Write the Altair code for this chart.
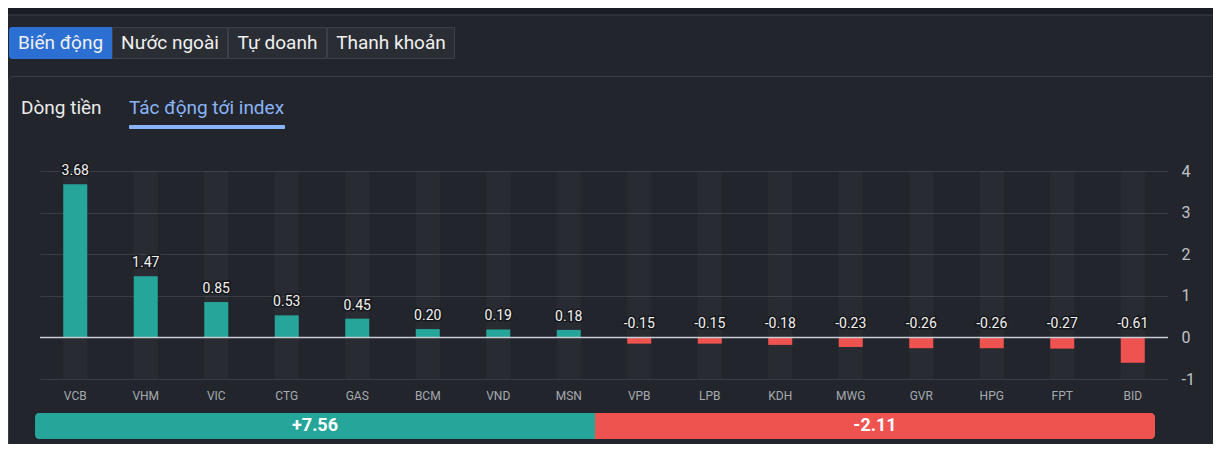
import altair as alt
import pandas as pd

# ---- data ----
tickers = ["VCB", "VHM", "VIC", "CTG", "GAS", "BCM", "VND", "MSN",
           "VPB", "LPB", "KDH", "MWG", "GVR", "HPG", "FPT", "BID"]
values = [3.68, 1.47, 0.85, 0.53, 0.45, 0.20, 0.19, 0.18,
          -0.15, -0.15, -0.18, -0.23, -0.26, -0.26, -0.27, -0.61]
y_ticks = [-1, 0, 1, 2, 3, 4]
summary_labels = ["+7.56", "-2.11"]
tab_labels = ["Biến động", "Nước ngoài", "Tự doanh", "Thanh khoản"]
sub_tabs = ["Dòng tiền", "Tác động tới index"]

FONT = "Roboto"
BG = "#22252b"
GREEN = "#26a69a"
RED = "#ef5350"

df = pd.DataFrame({"ticker": tickers, "value": values})
df["label_y"] = df["value"].clip(lower=0)
df["label"] = df["value"].map(lambda v: f"{v:.2f}")
df["top"] = max(y_ticks)
df["bottom"] = min(y_ticks)

n_pos = int((df["value"] > 0).sum())
n_neg = int((df["value"] < 0).sum())
df_sum = pd.DataFrame({
    "side": ["pos", "neg"],
    "start": [0, n_pos],
    "end": [n_pos, n_pos + n_neg],
    "label": summary_labels,
})
df_sum["mid"] = (df_sum["start"] + df_sum["end"]) / 2

# ---- main chart (shared band x scale) ----
xenc = alt.X("ticker:N", sort=tickers, title=None,
             scale=alt.Scale(paddingInner=0, paddingOuter=0),
             axis=alt.Axis(orient="bottom", labelAngle=0, labelColor="#a6aab0",
                           labelFontSize=12, labelFont=FONT, labelPadding=11,
                           ticks=False, domain=False, grid=False))
yscale = alt.Scale(domain=[min(y_ticks), max(y_ticks)], nice=False, zero=False)
yaxis = alt.Axis(orient="right", values=y_ticks, labelColor="#c0c3c8",
                 labelFontSize=16, labelFont=FONT, labelPadding=13,
                 labelExpr="'' + datum.value",
                 ticks=False, domain=False, grid=True,
                 gridColor="#393c43", gridWidth=1)

base = alt.Chart(df).encode(x=xenc)

stripes = base.mark_bar(size=24, color="#ffffff", opacity=0.03).encode(
    y=alt.Y("top:Q", scale=yscale, axis=yaxis, title=None),
    y2="bottom:Q",
)
bars = base.mark_bar(size=24).encode(
    y=alt.Y("value:Q", scale=yscale, axis=yaxis, title=None),
    color=alt.condition(alt.datum.value > 0, alt.value(GREEN), alt.value(RED)),
)
zero = alt.Chart(pd.DataFrame({"z": [0]})).mark_rule(
    color="#c9ccd3", strokeWidth=1.5).encode(y=alt.Y("z:Q", scale=yscale, axis=yaxis, title=None))
lab_halo = base.mark_text(baseline="alphabetic", dy=-9, fontSize=14, font=FONT,
                          stroke="#16181c", strokeWidth=3, color="#16181c").encode(
    y=alt.Y("label_y:Q", scale=yscale, axis=yaxis, title=None),
    text="label:N",
)
lab = base.mark_text(baseline="alphabetic", dy=-9, fontSize=14, font=FONT,
                     color="#f2f2f2").encode(
    y=alt.Y("label_y:Q", scale=yscale, axis=yaxis, title=None),
    text="label:N",
)
inner = alt.layer(stripes, bars, zero, lab_halo, lab)

# ---- summary bar (own x scale) ----
sscale = alt.Scale(domain=[0, n_pos + n_neg], range=[-5, 1115])
sum_base = alt.Chart(df_sum)
sum_pos = sum_base.mark_bar(color=GREEN, cornerRadiusTopLeft=4, cornerRadiusBottomLeft=4).encode(
    x=alt.X("start:Q", scale=sscale, axis=None, title=None), x2="end:Q",
    y=alt.value(242), y2=alt.value(268)
).transform_filter(alt.datum.side == "pos")
sum_neg = sum_base.mark_bar(color=RED, cornerRadiusTopRight=4, cornerRadiusBottomRight=4).encode(
    x=alt.X("start:Q", scale=sscale, axis=None, title=None), x2="end:Q",
    y=alt.value(242), y2=alt.value(268)
).transform_filter(alt.datum.side == "neg")
sum_txt = sum_base.mark_text(color="#ffffff", fontSize=18, fontWeight="bold", font=FONT,
                             baseline="middle").encode(
    x=alt.X("mid:Q", scale=sscale, axis=None, title=None),
    y=alt.value(255), text="label:N")
summary = alt.layer(sum_pos, sum_neg, sum_txt)

# ---- UI decoration ----
one = pd.DataFrame({"a": [0]})


def rect(x0, x1, y0, y1, **kw):
    return alt.Chart(one).mark_rect(**kw).encode(
        x=alt.value(x0), x2=alt.value(x1), y=alt.value(y0), y2=alt.value(y1))


def txt(s, x, y, **kw):
    return alt.Chart(one).mark_text(text=s, font=FONT, baseline="middle", **kw).encode(
        x=alt.value(x), y=alt.value(y))


deco = [
    rect(-40, 1180, -171, -156, color="#1b1e24"),
    rect(-40, 1180, -156.5, -155.5, color="#3a3e46"),
    rect(-31.5, 1200, -94.5, 300, fill=BG, fillOpacity=0, stroke="#3a3d44",
         strokeWidth=1, cornerRadius=5),
]
tab_spans = [(-31, 72), (72, 188), (188, 287), (287, 415)]
for i, (lbl, (a, b)) in enumerate(zip(tab_labels, tab_spans)):
    if i == 0:
        deco.append(rect(a, b, -144, -112, color="#2c6fd3", cornerRadiusTopLeft=3, cornerRadiusBottomLeft=3))
    else:
        deco.append(rect(a + 0.5, b - 0.5, -143.5, -112.5, fill="#2a2d34", stroke="#3b3f47", strokeWidth=1))
    deco.append(txt(lbl, (a + b) / 2, -128, align="center", fontSize=19, color="#f0f0f0"))

deco.append(txt(sub_tabs[0], -19, -63, align="left", fontSize=19, color="#ececec"))
deco.append(txt(sub_tabs[1], 89, -63, align="left", fontSize=19, color="#8ab4f8"))
deco.append(rect(89, 245, -46, -42, color="#8ab4f8", cornerRadius=1))

chart = alt.layer(*deco, inner, summary).resolve_scale(x="independent").properties(
    width=1128, height=208,
    padding={"left": 32, "top": 163, "right": 45, "bottom": 65},
    autosize=alt.AutoSizeParams(type="none"),
    background=BG,
).configure_view(stroke=None)

chart.save("out.html", embed_options={"renderer": "svg", "actions": False})
